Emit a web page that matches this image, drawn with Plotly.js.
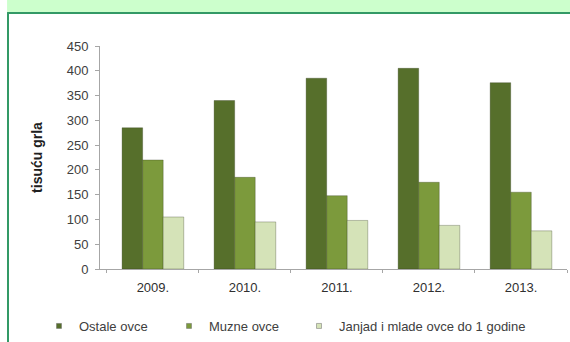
<!DOCTYPE html>
<html>
<head>
<meta charset="utf-8">
<script src="https://cdn.plot.ly/plotly-3.0.1.min.js"></script>
<style>
html,body{margin:0;padding:0;background:#fff;}
#chart{width:570px;height:342px;}
</style>
</head>
<body>
<div id="chart"></div>
<script>
var years = ["2009.", "2010.", "2011.", "2012.", "2013."];
var ostaleOvce = [285, 340, 385, 405, 376];
var muzneOvce = [220, 185, 148, 175, 155];
var janjad = [105, 95, 98, 88, 77];
var seriesNames = ["Ostale ovce", "Muzne ovce", "Janjad i mlade ovce do 1 godine"];
var yTicks = [0, 50, 100, 150, 200, 250, 300, 350, 400, 450];

var colors = ["#566f2b", "#7c9a3c", "#d5e3b8"];
var series = [ostaleOvce, muzneOvce, janjad];
var legendIds = ["legend", "legend2", "legend3"];

var traces = series.map(function (vals, i) {
  return {
    type: "bar",
    x: years,
    y: vals,
    name: seriesNames[i],
    legendgroup: "g" + i,
    showlegend: false,
    marker: { color: colors[i], line: { color: "rgba(40,50,20,0.5)", width: 0.6 } },
    hoverinfo: "x+y+name"
  };
});
// legend entries (small square bullets like the original)
series.forEach(function (vals, i) {
  traces.push({
    type: "scatter",
    mode: "markers",
    x: [null],
    y: [null],
    name: seriesNames[i],
    legendgroup: "g" + i,
    legend: legendIds[i],
    showlegend: true,
    marker: { symbol: "square", size: 5, color: colors[i], line: { color: "#6a6a6a", width: 0.5 } },
    hoverinfo: "skip"
  });
});

var legendFont = { size: 13, color: "#404040", family: "Liberation Sans, Arial, sans-serif" };
function legendAt(xp) {
  return {
    orientation: "h",
    x: xp,
    xanchor: "left",
    y: (269 - 341) / 223,
    yanchor: "bottom",
    font: legendFont,
    itemwidth: 30,
    bgcolor: "rgba(0,0,0,0)"
  };
}

var layout = {
  width: 570,
  height: 342,
  margin: { l: 100, r: 3, t: 46, b: 73, autoexpand: false },
  paper_bgcolor: "#ffffff",
  plot_bgcolor: "rgba(0,0,0,0)",
  font: { family: "Liberation Sans, Arial, sans-serif", color: "#404040", size: 13 },
  barmode: "group",
  bargap: 0.33,
  bargroupgap: 0,
  showlegend: true,
  legend: legendAt((39 - 100) / 467),
  legend2: legendAt((169 - 100) / 467),
  legend3: legendAt((299 - 100) / 467),
  xaxis: {
    type: "category",
    range: [-0.575, 4.5],
    automargin: false,
    showgrid: false,
    zeroline: false,
    showline: true,
    linecolor: "#a6a6a6",
    linewidth: 1,
    ticks: "outside",
    tickson: "boundaries",
    ticklen: 3,
    tickcolor: "#a6a6a6",
    ticklabelstandoff: 6,
    tickfont: { size: 13, color: "#303030" },
    fixedrange: true
  },
  yaxis: {
    range: [0, 450],
    automargin: false,
    tickvals: yTicks,
    ticktext: yTicks.map(String),
    showgrid: false,
    zeroline: false,
    showline: true,
    linecolor: "#a6a6a6",
    linewidth: 1,
    ticks: "outside",
    ticklen: 4,
    tickcolor: "#a6a6a6",
    ticklabelstandoff: 4,
    tickfont: { size: 13, color: "#404040" },
    title: { text: "tisuću grla", font: { size: 14, color: "#202020", family: "Liberation Sans, Arial, sans-serif", weight: "bold" }, standoff: 20 },
    fixedrange: true
  },
  shapes: [
    {
      type: "rect", xref: "paper", yref: "paper",
      x0: -0.199, x1: 1.01, y0: (269 - 13) / 223, y1: 269 / 223 + 0.01,
      fillcolor: "#ccffcc", line: { width: 0 }, layer: "below"
    },
    {
      type: "line", xref: "paper", yref: "paper",
      x0: -0.199, x1: 1.01, y0: (269 - 13) / 223, y1: (269 - 13) / 223,
      line: { color: "#339966", width: 2 }
    },
    {
      type: "line", xref: "paper", yref: "paper",
      x0: -0.197, x1: -0.197, y0: (269 - 342) / 223 - 0.01, y1: (269 - 13) / 223,
      line: { color: "#339966", width: 2 }
    }
  ]
};

Plotly.newPlot("chart", traces, layout, { displayModeBar: false, staticPlot: true });
</script>
</body>
</html>
